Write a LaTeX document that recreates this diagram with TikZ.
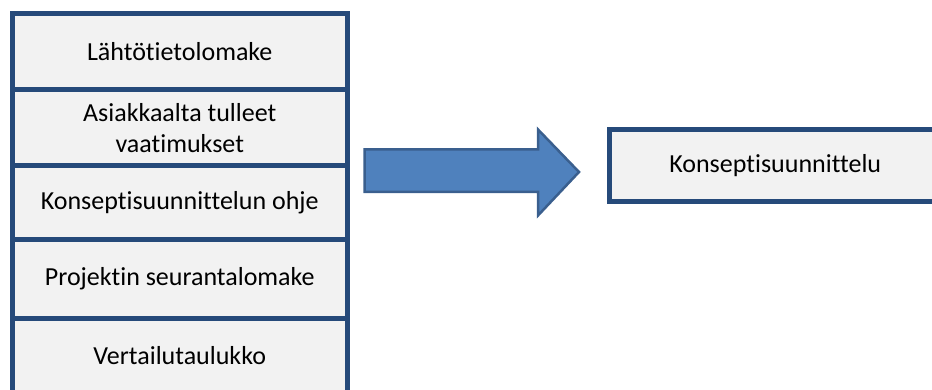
\documentclass[tikz,border=0pt]{standalone}
\usepackage{fontspec}
\setmainfont[Ligatures={NoCommon}]{Carlito}
\usetikzlibrary{positioning}
\definecolor{boxline}{HTML}{264A7A}
\definecolor{boxfill}{HTML}{F2F2F2}
\definecolor{arrowfill}{HTML}{4F81BD}
\definecolor{arrowline}{HTML}{3A5F8E}

\begin{document}
\begin{tikzpicture}[x=1pt,y=-1pt,
  docbox/.style={draw=boxline,fill=boxfill,line width=5pt,inner sep=0pt,
    minimum width=334.5pt,align=center,font=\fontsize{26}{31}\selectfont}]
\useasboundingbox (0,0) rectangle (932,390);
\clip (0,0) rectangle (932,390);
% input documents
\node[docbox,minimum height=76pt] (lahto) at (179.75,52) {Lähtötietolomake};
\node[docbox,minimum height=76pt] (vaatim) at (179.75,128) {Asiakkaalta tulleet\\vaatimukset};
\node[docbox,minimum height=74pt] (ohje) at (179.75,203) {Konseptisuunnittelun ohje};
\node[docbox,minimum height=78pt] (seuranta) at (179.75,279) {Projektin seurantalomake};
\node[docbox,minimum height=75pt] (vertailu) at (179.75,355.5) {Vertailutaulukko};
% result
\node[docbox,minimum width=331.5pt,minimum height=72.5pt] (konsepti) at (775.25,165.75) {Konseptisuunnittelu};
% block arrow
\draw[line width=2.5pt,draw=arrowline,fill=arrowfill]
  (364.5,149.5) -- (538,149.5) -- (538,129.5) -- (579,172) -- (538,215.5)
  -- (538,192) -- (364.5,192) -- cycle;
\end{tikzpicture}
\end{document}
